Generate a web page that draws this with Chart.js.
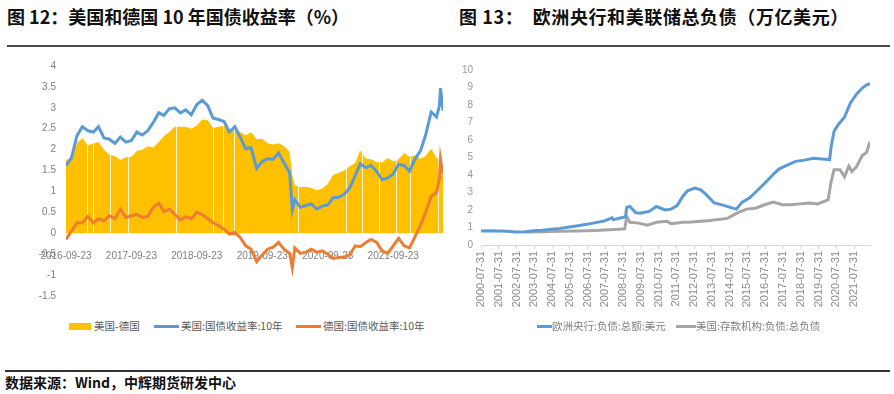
<!DOCTYPE html>
<html>
<head>
<meta charset="utf-8">
<script src="https://cdn.jsdelivr.net/npm/chart.js@4/dist/chart.umd.min.js"></script>
<style>
  body { margin: 0; width: 894px; height: 394px; background: #fff; position: relative; overflow: hidden;
         font-family: "Noto Sans CJK SC", "Noto Sans", sans-serif; }
  .title { position: absolute; top: 3px; font-size: 18px; font-weight: bold; color: #111; white-space: pre; }
  .rule { position: absolute; height: 2px; background: #4a4a4a; }
  .src { position: absolute; left: 5px; top: 372px; font-size: 14px; font-weight: bold; color: #111; }
  .legend { position: absolute; font-size: 10.5px; color: #595959; white-space: nowrap; }
  .legend span.box { position: absolute; }
  .legend span.txt { position: absolute; top: 0; line-height: 14px; }
  canvas { position: absolute; }
</style>
</head>
<body>
<div class="title" style="left:7px">图 12：美国和德国 10 年国债收益率（%）</div>
<div class="title" style="left:459px; letter-spacing:0.6px">图 13：  欧洲央行和美联储总负债（万亿美元）</div>
<div class="rule" style="left:7px; top:45px; width:883px"></div>

<canvas id="leftChart" style="left:0; top:50px" width="447" height="262"></canvas>
<canvas id="rightChart" style="left:447px; top:50px" width="447" height="270"></canvas>

<div class="legend" style="left:0; top:319px; width:447px; height:14px">
  <span class="box" style="left:69px; top:3.5px; width:22px; height:7px; background:#FFC000"></span>
  <span class="txt" style="left:94px">美国-德国</span>
  <span class="box" style="left:154px; top:5.5px; width:25px; height:3px; background:#5B9BD5"></span>
  <span class="txt" style="left:181px">美国:国债收益率:10年</span>
  <span class="box" style="left:296px; top:5.5px; width:25px; height:3px; background:#ED7D31"></span>
  <span class="txt" style="left:323px">德国:国债收益率:10年</span>
</div>
<div class="legend" style="left:447px; top:319px; width:447px; height:14px; color:#7f7f7f">
  <span class="box" style="left:90px; top:5.5px; width:15px; height:3px; background:#5B9BD5"></span>
  <span class="txt" style="left:105px">欧洲央行:负债:总额:美元</span>
  <span class="box" style="left:229px; top:5.5px; width:20px; height:3px; background:#A5A5A5"></span>
  <span class="txt" style="left:249px">美国:存款机构:负债:总负债</span>
</div>

<div class="rule" style="left:5px; top:370px; width:885px; background:#333"></div>
<div class="src">数据来源：Wind，中辉期货研发中心</div>

<script>
// ---- 图12 data (month samples) ----
const yieldDates = [
  '2016-09-23','2016-10-23','2016-11-23','2016-12-23',
  '2017-01-23','2017-02-23','2017-03-23','2017-04-23','2017-05-23','2017-06-23','2017-07-23','2017-08-23','2017-09-23','2017-10-23','2017-11-23','2017-12-23',
  '2018-01-23','2018-02-23','2018-03-23','2018-04-23','2018-05-23','2018-06-23','2018-07-23','2018-08-23','2018-09-23','2018-10-23','2018-11-23','2018-12-23',
  '2019-01-23','2019-02-23','2019-03-23','2019-04-23','2019-05-23','2019-06-23','2019-07-23','2019-08-23','2019-09-23','2019-10-23','2019-11-23','2019-12-23',
  '2020-01-23','2020-02-23','2020-03-09','2020-03-23','2020-04-23','2020-05-23','2020-06-23','2020-07-23','2020-08-23','2020-09-23','2020-10-23','2020-11-23','2020-12-23',
  '2021-01-23','2021-02-23','2021-03-23','2021-04-23','2021-05-23','2021-06-23','2021-07-23','2021-08-23','2021-09-23','2021-10-23','2021-11-23','2021-12-23',
  '2022-01-23','2022-02-23','2022-03-23','2022-04-23','2022-05-23','2022-06-08','2022-06-14','2022-06-23','2022-06-28'
];
const usYield = [
  1.62, 1.80, 2.33, 2.55,
  2.45, 2.42, 2.55, 2.28, 2.25, 2.15, 2.30, 2.18, 2.22, 2.42, 2.35, 2.45,
  2.65, 2.88, 2.82, 2.98, 3.00, 2.88, 2.95, 2.83, 3.08, 3.18, 3.05, 2.75,
  2.72, 2.67, 2.42, 2.55, 2.30, 2.02, 2.05, 1.55, 1.72, 1.78, 1.77, 1.92,
  1.68, 1.45, 0.56, 0.80, 0.62, 0.66, 0.70, 0.58, 0.65, 0.68, 0.85, 0.86, 0.93,
  1.08, 1.38, 1.66, 1.57, 1.62, 1.48, 1.28, 1.32, 1.42, 1.65, 1.62, 1.48,
  1.78, 1.98, 2.35, 2.90, 2.78, 3.05, 3.47, 3.15, 2.93
];
const deYield = [
  -0.15, 0.05, 0.25, 0.25,
  0.40, 0.25, 0.35, 0.30, 0.42, 0.35, 0.58, 0.38, 0.42, 0.45, 0.38, 0.40,
  0.62, 0.72, 0.52, 0.58, 0.45, 0.32, 0.40, 0.35, 0.50, 0.45, 0.35, 0.25,
  0.18, 0.10, -0.02, 0.02, -0.10, -0.30, -0.38, -0.68, -0.52, -0.38, -0.33, -0.22,
  -0.38, -0.48, -0.82, -0.35, -0.48, -0.45, -0.38, -0.45, -0.42, -0.50, -0.60, -0.58, -0.57,
  -0.52, -0.30, -0.32, -0.22, -0.15, -0.22, -0.42, -0.48, -0.30, -0.12, -0.30, -0.35,
  -0.08, 0.20, 0.50, 0.88, 0.98, 1.30, 1.76, 1.50, 1.45
];
const spread = [
  1.75, 1.80, 2.15, 2.28,
  2.10, 2.15, 2.18, 2.00, 1.88, 1.85, 1.75, 1.82, 1.83, 1.97, 2.00, 2.08,
  2.05, 2.18, 2.32, 2.42, 2.55, 2.55, 2.55, 2.50, 2.58, 2.72, 2.70, 2.52,
  2.55, 2.57, 2.45, 2.52, 2.42, 2.34, 2.42, 2.25, 2.26, 2.15, 2.12, 2.15,
  2.08, 1.95, 1.38, 1.15, 1.10, 1.11, 1.08, 1.03, 1.07, 1.18, 1.40, 1.44, 1.50,
  1.60, 1.68, 1.98, 1.79, 1.77, 1.70, 1.70, 1.80, 1.72, 1.77, 1.92, 1.83,
  1.86, 1.78, 1.85, 2.02, 1.80, 1.75, 1.71, 1.65, 1.48
];
// days with no spread value (thin white breaks in the area)
const spreadGapDates = [
  '2017-01-16','2017-02-20','2017-05-29','2017-09-04','2018-05-28','2018-12-25','2019-02-18','2019-04-19',
  '2020-04-10','2021-01-01','2021-04-02','2021-07-05','2021-10-11','2021-12-27','2022-05-30'
];
const leftTickLabels = ['2016-09-23','2017-09-23','2018-09-23','2019-09-23','2020-09-23','2021-09-23'];

// ---- 图13 data ----
const ecbDates = [
  '2000-07-31','2001-01-15','2001-07-15','2002-01-15','2002-07-15','2003-01-15','2003-07-15','2004-01-15','2004-07-15',
  '2005-01-15','2005-07-15','2006-01-15','2006-07-15','2007-01-15','2007-07-15','2007-12-15','2008-01-15','2008-07-15',
  '2008-09-15','2008-10-15','2008-12-15','2009-04-15','2009-07-15','2010-01-15','2010-06-15','2010-12-15','2011-04-15',
  '2011-08-15','2011-12-15','2012-03-15','2012-08-15','2012-12-15','2013-04-15','2013-09-15','2014-03-15','2014-09-15',
  '2014-12-15','2015-04-15','2015-09-15','2016-02-15','2016-08-15','2017-01-15','2017-05-15','2017-10-15','2018-04-15',
  '2018-10-15','2019-04-15','2019-10-15','2020-03-15','2020-04-15','2020-06-15','2020-09-15','2021-01-15','2021-05-15',
  '2021-09-15','2022-01-15','2022-04-15','2022-06-24'
];
const ecbValues = [
  0.80, 0.82, 0.80, 0.78, 0.74, 0.75, 0.82, 0.85, 0.90,
  0.95, 1.03, 1.10, 1.18, 1.28, 1.38, 1.55, 1.45, 1.57,
  1.60, 2.15, 2.20, 1.85, 1.82, 1.92, 2.20, 2.00, 2.05,
  2.25, 2.80, 3.10, 3.25, 3.15, 2.85, 2.40, 2.28, 2.12,
  2.05, 2.45, 2.70, 3.10, 3.60, 4.05, 4.35, 4.55, 4.78,
  4.85, 4.95, 4.92, 4.88, 5.60, 6.50, 6.90, 7.30, 8.10,
  8.60, 8.97, 9.15, 9.22
];
const depDates = [
  '2003-01-15','2004-01-15','2005-01-15','2006-01-15','2007-01-15','2008-01-15','2008-09-01','2008-10-15','2008-12-15',
  '2009-06-15','2009-12-15','2010-06-15','2011-01-15','2011-04-15','2011-12-15','2012-06-15','2013-06-15','2014-06-15',
  '2015-01-15','2015-07-15','2016-01-15','2016-07-15','2017-01-15','2017-07-15','2018-01-15','2018-07-15','2019-01-15',
  '2019-07-15','2020-01-15','2020-02-15','2020-04-15','2020-06-15','2020-10-15','2021-01-15','2021-04-15','2021-06-15',
  '2021-09-15','2022-01-15','2022-04-15','2022-06-24'
];
const depValues = [
  0.74, 0.76, 0.78, 0.80, 0.83, 0.88, 0.92, 1.62, 1.30,
  1.25, 1.13, 1.30, 1.35, 1.22, 1.30, 1.32, 1.40, 1.52,
  1.85, 2.05, 2.10, 2.30, 2.45, 2.30, 2.30, 2.35, 2.40,
  2.35, 2.55, 2.60, 3.60, 4.30, 4.30, 3.90, 4.50, 4.20,
  4.45, 5.10, 5.30, 5.90
];
const rightTickLabels = [
  '2000-07-31','2001-07-31','2002-07-31','2003-07-31','2004-07-31','2005-07-31','2006-07-31','2007-07-31',
  '2008-07-31','2009-07-31','2010-07-31','2011-07-31','2012-07-31','2013-07-31','2014-07-31','2015-07-31',
  '2016-07-31','2017-07-31','2018-07-31','2019-07-31','2020-07-31','2021-07-31'
];

function toPoints(dates, values) {
  return dates.map((d, i) => ({ x: Date.parse(d), y: values[i] }));
}

const tickFont = { family: 'Liberation Sans', size: 10 };

// white breaks drawn right after the yellow area, before the lines
const gapLines = {
  id: 'gapLines',
  afterDatasetDraw(chart, args) {
    if (args.index !== 0) return;
    const { ctx, chartArea, scales } = chart;
    const y0 = scales.y.getPixelForValue(0);
    ctx.save();
    ctx.strokeStyle = 'rgba(255,255,255,0.85)';
    ctx.lineWidth = 1;
    spreadGapDates.forEach(d => {
      const x = Math.round(scales.x.getPixelForValue(Date.parse(d))) + 0.5;
      ctx.beginPath();
      ctx.moveTo(x, y0);
      ctx.lineTo(x, chartArea.top);
      ctx.stroke();
    });
    ctx.restore();
  }
};

// ---- left chart ----
new Chart(document.getElementById('leftChart'), {
  type: 'line',
  data: {
    datasets: [
      {
        label: '美国-德国',
        data: toPoints(yieldDates, spread),
        borderWidth: 0,
        backgroundColor: '#FFC000',
        fill: 'origin',
        pointRadius: 0,
        order: 3
      },
      {
        label: '美国:国债收益率:10年',
        data: toPoints(yieldDates, usYield),
        borderColor: '#5B9BD5',
        borderWidth: 3,
        pointRadius: 0,
        fill: false,
        order: 2
      },
      {
        label: '德国:国债收益率:10年',
        data: toPoints(yieldDates, deYield),
        borderColor: '#ED7D31',
        borderWidth: 3,
        pointRadius: 0,
        fill: false,
        order: 1
      }
    ]
  },
  options: {
    responsive: false,
    animation: false,
    layout: { padding: { top: 15, bottom: 8, left: 0, right: 4 } },
    plugins: { legend: { display: false }, tooltip: { enabled: false } },
    scales: {
      x: {
        type: 'linear',
        position: { y: 0 },
        min: Date.parse(yieldDates[0]),
        max: Date.parse(yieldDates[yieldDates.length - 1]),
        grid: { display: false, drawTicks: false },
        border: { display: false },
        afterBuildTicks: (scale) => {
          scale.ticks = leftTickLabels.map(d => ({ value: Date.parse(d) }));
        },
        afterFit: (scale) => { scale.height = 0; },
        ticks: {
          autoSkip: false,
          maxRotation: 0,
          padding: 17,
          color: '#7f7f7f',
          font: tickFont,
          callback: (v, i) => leftTickLabels[i]
        }
      },
      y: {
        min: -1.5,
        max: 4,
        grid: { display: false, drawTicks: false },
        border: { display: false },
        afterFit: (scale) => { scale.width = 66; },
        ticks: {
          stepSize: 0.5, padding: 10, color: '#7f7f7f', font: tickFont,
          callback: (v) => String(Math.round(v * 10) / 10)
        }
      }
    }
  },
  plugins: [gapLines]
});

// ---- right chart ----
new Chart(document.getElementById('rightChart'), {
  type: 'line',
  data: {
    datasets: [
      {
        label: '欧洲央行:负债:总额:美元',
        data: toPoints(ecbDates, ecbValues),
        borderColor: '#5B9BD5',
        borderWidth: 3,
        pointRadius: 0,
        fill: false
      },
      {
        label: '美国:存款机构:负债:总负债',
        data: toPoints(depDates, depValues),
        borderColor: '#A5A5A5',
        borderWidth: 3,
        pointRadius: 0,
        fill: false
      }
    ]
  },
  options: {
    responsive: false,
    animation: false,
    layout: { padding: { top: 20, bottom: 0, left: 0, right: 24 } },
    plugins: { legend: { display: false }, tooltip: { enabled: false } },
    scales: {
      x: {
        type: 'linear',
        min: Date.parse(rightTickLabels[0]),
        max: Date.parse('2022-06-24'),
        grid: { display: true, drawOnChartArea: false, drawTicks: true, tickLength: 4, color: '#d9d9d9' },
        border: { display: true, color: '#d9d9d9' },
        afterBuildTicks: (scale) => {
          scale.ticks = rightTickLabels.map(d => ({ value: Date.parse(d) }));
        },
        afterFit: (scale) => { scale.height = 75; },
        ticks: {
          autoSkip: false,
          minRotation: 90,
          maxRotation: 90,
          padding: 2,
          color: '#8c8c8c',
          font: { family: 'Liberation Sans', size: 11 },
          callback: (v, i) => rightTickLabels[i]
        }
      },
      y: {
        min: 0,
        max: 10,
        grid: { display: false, drawTicks: false },
        border: { display: false },
        afterFit: (scale) => { scale.width = 34; },
        ticks: { stepSize: 1, padding: 8, color: '#999999', font: tickFont }
      }
    }
  }
});
</script>
</body>
</html>
